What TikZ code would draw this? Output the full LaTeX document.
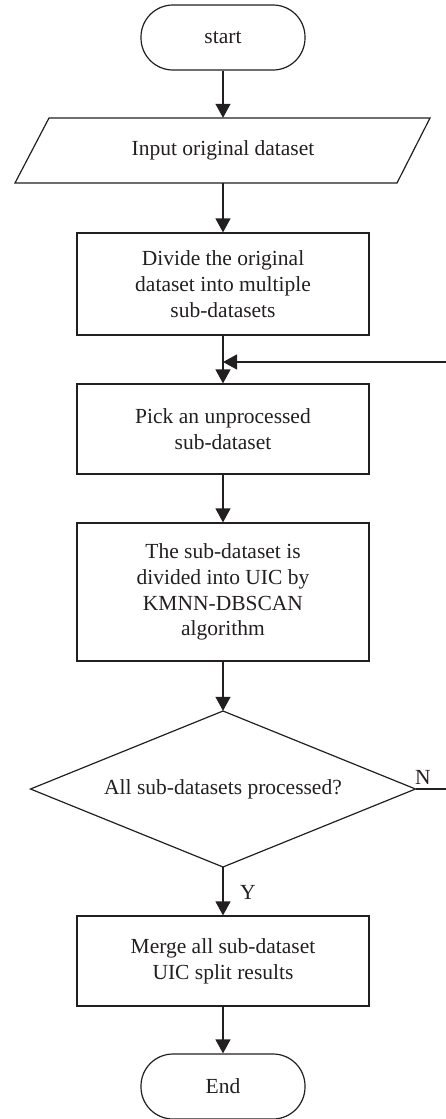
\documentclass[tikz,border=0pt]{standalone}
\usepackage{fontspec}
\setmainfont{Liberation Serif}
\usetikzlibrary{arrows.meta}
\definecolor{ink}{RGB}{35,31,32}
\begin{document}
\begin{tikzpicture}[x=1pt,y=-1pt,
  every node/.style={text=ink, font=\fontsize{21.5}{25.8}\selectfont, align=center, inner sep=0pt},
  box/.style={draw=ink, line width=1.2pt, minimum width=292pt},
  term/.style={draw=ink, line width=1.2pt, minimum width=164pt, minimum height=65pt, rounded corners=32pt},
  arr/.style={draw=ink, line width=1.2pt, -{Triangle[width=15pt,length=14pt]}},
  ln/.style={draw=ink, line width=1.2pt}]
\useasboundingbox (0,0) rectangle (445,1119);
\node[term] (start) at (223,37.5) {start};
\draw[ln] (49,118) -- (430,118) -- (397,183) -- (15,183) -- cycle;
\node[minimum width=300pt, minimum height=65pt] (in) at (223,150.5) {Input original dataset};
\node[box, minimum height=102pt] (b1) at (223,284) {Divide the original\\dataset into multiple\\sub-datasets};
\node[box, minimum height=90pt] (b2) at (223,429) {Pick an unprocessed\\sub-dataset};
\node[box, minimum height=138pt] (b3) at (223,592) {The sub-dataset is\\divided into UIC by\\KMNN-DBSCAN\\algorithm};
\draw[ln] (223,711) -- (415.5,789) -- (223,867) -- (30.5,789) -- cycle;
\node[minimum width=385pt, minimum height=156pt] (d) at (223,789) {All sub-datasets processed?};
\node[box, minimum height=90pt] (b4) at (223,961) {Merge all sub-dataset\\UIC split results};
\node[term] (end) at (223,1086.5) {End};
\coordinate (fb) at (223,362);
\coordinate (r1) at (460,789);
\coordinate (r2) at (460,362);
\draw[arr] (start) -- (in.north);
\draw[arr] (in.south) -- (b1);
\draw[arr] (b1) -- (b2);
\draw[arr] (b2) -- (b3);
\draw[arr] (b3) -- (d.north);
\draw[arr] (d.south) -- (b4);
\draw[arr] (b4) -- (end);
\draw[arr] (d.east) -- (r1) -- (r2) -- (fb);
\node (n) at (423,777) {N};
\node (y) at (248,892) {Y};
\end{tikzpicture}
\end{document}
